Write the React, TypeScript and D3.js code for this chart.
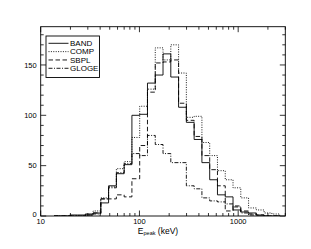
// @ts-nocheck
import * as d3 from "d3";

// log-spaced bin edges (keV)
const binEdges = [
  13.7, 16.4, 19.7, 23.6, 28.3, 33.9, 40.6, 48.7, 58.4, 70.0, 83.9, 100.6,
  120.6, 144.6, 173.3, 207.8, 249.1, 298.6, 358.0, 429.2, 514.5, 616.8, 739.4,
  886.4, 1062.6, 1273.9, 1527.1, 1830.7, 2194.7, 2631,
];

const bandCounts = [0, 0, 1, 1, 2, 3, 13, 30, 42, 51, 100, 101, 132, 140, 161, 138, 108, 93, 76, 53, 36, 21, 19, 6, 4, 3, 1, 0, 0];
const compCounts = [0, 0, 0, 0, 1, 5, 18, 29, 47, 54, 78, 109, 126, 167, 155, 170, 142, 98, 99, 73, 60, 45, 36, 28, 18, 8, 6, 3, 2];
const sbplCounts = [0, 0, 0, 0, 1, 3, 17, 17, 21, 19, 37, 70, 123, 152, 153, 155, 112, 95, 79, 60, 46, 30, 5, 10, 5, 2, 1, 0, 0];
const glogeCounts = [0, 0, 0, 0, 1, 2, 17, 28, 43, 52, 62, 60, 80, 71, 62, 53, 53, 30, 27, 18, 15, 14, 12, 9, 3, 1, 0, 0, 0];

const seriesNames = ["BAND", "COMP", "SBPL", "GLOGE"];
const xTickLabels = [10, 100, 1000];
const yTickLabels = [0, 50, 100, 150];

const width = 311;
const height = 249;
const left = 40.7;
const right = 285.3;
const top = 26.7;
const bottom = 216;

const dashes = [null, "1 1.4", "4.5 2.5", "4 1.5 1 1.5"];
const font = "'Liberation Sans', Arial, Helvetica, sans-serif";

export default function App() {
  const x = d3.scaleLog([10, 3000], [left, right]);
  const y = d3.scaleLinear([0, 188], [bottom, top]);

  const all = [bandCounts, compCounts, sbplCounts, glogeCounts];

  const line = d3
    .line()
    .x((p) => x(p[0]))
    .y((p) => y(p[1]))
    .curve(d3.curveStepAfter);

  function outline(counts) {
    const pts = [[binEdges[0], 0]];
    counts.forEach((c, i) => pts.push([binEdges[i], c]));
    pts.push([binEdges[binEdges.length - 1], counts[counts.length - 1]]);
    pts.push([binEdges[binEdges.length - 1], 0]);
    return line(pts);
  }

  const xTicks = x.ticks();
  const yTicks = d3.range(0, 188, 10);

  return (
    <svg
      width={width}
      height={height}
      style={{ position: "absolute", left: 0, top: 0, background: "#fff" }}
    >
      <defs>
        <clipPath id="plot">
          <rect x={left} y={top} width={right - left} height={bottom - top} />
        </clipPath>
      </defs>

      <g clipPath="url(#plot)" fill="none" stroke="#000" strokeWidth={0.9}>
        {all.map((counts, i) => (
          <path key={i} d={outline(counts)} strokeDasharray={dashes[i]} />
        ))}
      </g>

      {/* ticks */}
      <g stroke="#000" strokeWidth={0.8}>
        {xTicks.map((t, i) => {
          const major = xTickLabels.includes(t);
          const len = major ? 5.5 : 3;
          const px = x(t);
          return (
            <g key={"x" + i}>
              <line x1={px} x2={px} y1={bottom} y2={bottom - len} />
              <line x1={px} x2={px} y1={top} y2={top + len} />
            </g>
          );
        })}
        {yTicks.map((t, i) => {
          const major = t % 50 === 0;
          const len = major ? 5.5 : 3;
          const py = y(t);
          return (
            <g key={"y" + i}>
              <line x1={left} x2={left + len} y1={py} y2={py} />
              <line x1={right} x2={right - len} y1={py} y2={py} />
            </g>
          );
        })}
      </g>

      <rect
        x={left}
        y={top}
        width={right - left}
        height={bottom - top}
        fill="none"
        stroke="#000"
        strokeWidth={0.9}
      />

      <g fontFamily={font} fontSize={7.5} fill="#000">
        {yTickLabels.map((t) => (
          <text key={"yl" + t} x={left - 4} y={y(t)} dy={t === 0 ? "0.1em" : "0.35em"} textAnchor="end">
            {t}
          </text>
        ))}
        {xTickLabels.map((t) => (
          <text key={"xl" + t} x={x(t)} y={bottom + 7.8} textAnchor="middle">
            {t}
          </text>
        ))}
      </g>

      <text x={158} y={233.5} textAnchor="middle" fontFamily={font} fontSize={8.5}>
        E<tspan fontSize={5.5} dy={1.5}>peak</tspan>
        <tspan dy={-1.5}> (keV)</tspan>
      </text>

      {/* legend */}
      <rect x={46} y={36} width={53.5} height={41.5} fill="#fff" stroke="#000" strokeWidth={0.9} />
      {seriesNames.map((name, i) => {
        const ly = 43.3 + i * 8.33;
        return (
          <g key={name}>
            <line x1={48.5} x2={68.5} y1={ly} y2={ly} stroke="#000" strokeWidth={0.9} strokeDasharray={dashes[i]} />
            <text x={70} y={ly} dy="0.35em" fontFamily={font} fontSize={8}>
              {name}
            </text>
          </g>
        );
      })}
    </svg>
  );
}
